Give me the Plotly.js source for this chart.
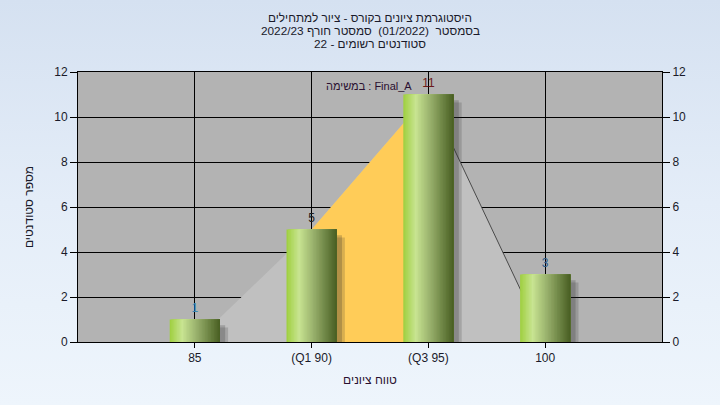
<!DOCTYPE html>
<html>
<head>
<meta charset="utf-8">
<script src="https://cdn.plot.ly/plotly-3.0.1.min.js"></script>
<style>
html,body{margin:0;padding:0;width:720px;height:405px;overflow:hidden;
background:linear-gradient(to bottom,#d5e1f1 0%,#e4edf8 50%,#eef5fc 100%);}
#chart{width:720px;height:405px;}
</style>
</head>
<body>
<div id="chart"></div>
<script>
// ---- data ----
const categories = ['85', '(Q1 90)', '(Q3 95)', '100'];
const counts = [1, 5, 11, 3];
const areaValues = [0, 5, 11, 0];
const quartileCats = ['(Q1 90)', '(Q3 95)'];
const quartileValues = [5, 11];
const descCats = ['(Q3 95)', '100'];
const descValues = [11, 0];
const labelColors = ['#3a86b0', '#1e1e1e', '#6a1a1a', '#2a5a8a'];
const titleLines = ['היסטוגרמת ציונים בקורס - ציור למתחילים',
  'בסמסטר  (01/2022)  סמסטר חורף 2022/23',
  'סטודנטים רשומים - 22'];
const taskLabel = 'במשימה : Final_A';
const xTitle = 'טווח ציונים';
const yTitle = 'מספר סטודנטים';

// ---- styles ----
const FONT = 'Liberation Sans, Arial, sans-serif';
const TXT = '#1a1a2a';
const barWidth = 0.43;
const gradStops = [[0, [159,207,63]], [0.25, [200,228,146]], [0.55, [150,174,106]], [1, [72,94,34]]];
function gradColor(t) {
  for (let k = 1; k < gradStops.length; k++) {
    if (t <= gradStops[k][0]) {
      const a = gradStops[k-1], b = gradStops[k];
      const f = (t - a[0]) / (b[0] - a[0]);
      const c = a[1].map((v, j) => Math.round(v + (b[1][j] - v) * f));
      return 'rgb(' + c.join(',') + ')';
    }
  }
  return 'rgb(' + gradStops[gradStops.length-1][1].join(',') + ')';
}

const traces = [];
// background area on main axes (drawn first)
traces.push({type:'scatter', x:categories, y:areaValues, mode:'lines', fill:'tozeroy',
  line:{width:0, color:'#c0c0c0'}, fillcolor:'#c0c0c0', hoverinfo:'skip'});
traces.push({type:'scatter', x:quartileCats, y:quartileValues, mode:'lines', fill:'tozeroy',
  line:{width:0, color:'#ffcc58'}, fillcolor:'#ffcc58', hoverinfo:'skip'});
traces.push({type:'scatter', x:descCats, y:descValues, mode:'lines',
  line:{width:1, color:'#4a4a4a'}, hoverinfo:'skip'});
// bars on overlay axes (drawn above)
[[0.045,'rgba(40,40,40,0.22)',-0.25],[0.07,'rgba(40,40,40,0.18)',-0.35]].forEach(s=>{
  traces.push({type:'bar', x:categories, y:counts, base:s[2], width:barWidth, xaxis:'x2', yaxis:'y2',
    offset:-barWidth/2 + s[0], marker:{color:s[1], line:{width:0}}, hoverinfo:'skip'});
});
const n = 34;
const sw = barWidth / n;
for (let i = 0; i < n; i++) {
  traces.push({type:'bar', x:categories, y:counts, width:barWidth - i*sw, xaxis:'x2', yaxis:'y2',
    offset:-barWidth/2 + i*sw, marker:{color:gradColor((i + 0.5) / n), line:{width:0}}, hoverinfo:'skip'});
}
traces.push({type:'scatter', x:categories, y:counts, mode:'markers+text', text:counts.map(String),
  xaxis:'x2', yaxis:'y2', cliponaxis:false, marker:{size:5, opacity:0},
  textposition:'top center', textfont:{family:FONT, size:12, color:labelColors}, hoverinfo:'skip'});

const tickFont = {family:FONT, size:12, color:TXT};
const titleAnn = titleLines.map((t, i) => ({text:t, xref:'paper', yref:'paper',
  x:0.5, y:[1.2, 1.1519, 1.1037][i], xanchor:'center', yanchor:'middle', showarrow:false,
  font:{family:FONT, size:11.8, color:TXT}}));

const layout = {
  width:720, height:405,
  paper_bgcolor:'rgba(0,0,0,0)', plot_bgcolor:'#b3b3b3',
  margin:{l:78, r:58, t:72, b:63},
  showlegend:false, barmode:'overlay', hovermode:false,
  font:{family:FONT, size:12, color:TXT},
  xaxis:{type:'category', range:[-1,4], showgrid:true, gridcolor:'#000', gridwidth:1,
    showline:true, linecolor:'#000', linewidth:1, mirror:true, zeroline:false,
    ticks:'outside', ticklen:5, tickcolor:'#000', tickfont:tickFont,
    title:{text:xTitle, standoff:11, font:{family:FONT, size:12, color:'#2a1030'}}},
  yaxis:{range:[0,12], dtick:2, showgrid:true, gridcolor:'#000', gridwidth:1,
    showline:true, linecolor:'#000', linewidth:1, zeroline:false,
    ticks:'outside', ticklen:7, tickcolor:'#000', tickfont:tickFont,
    title:{text:yTitle, standoff:18, font:{family:FONT, size:12, color:TXT}}},
  xaxis2:{type:'category', overlaying:'x', range:[-1,4], visible:false, showgrid:false},
  yaxis2:{range:[0,12], dtick:2, overlaying:'y', side:'right', showgrid:false, zeroline:false,
    showline:true, linecolor:'#000', linewidth:1,
    ticks:'outside', ticklen:7, tickcolor:'#000', tickfont:tickFont},
  annotations:titleAnn.concat([{text:taskLabel, xref:'paper', yref:'paper', x:0.498, y:0.948,
    xanchor:'center', yanchor:'middle', showarrow:false, font:{family:FONT, size:11, color:'#2a1030'}}])
};
Plotly.newPlot('chart', traces, layout, {staticPlot:true, displayModeBar:false});
</script>
</body>
</html>
